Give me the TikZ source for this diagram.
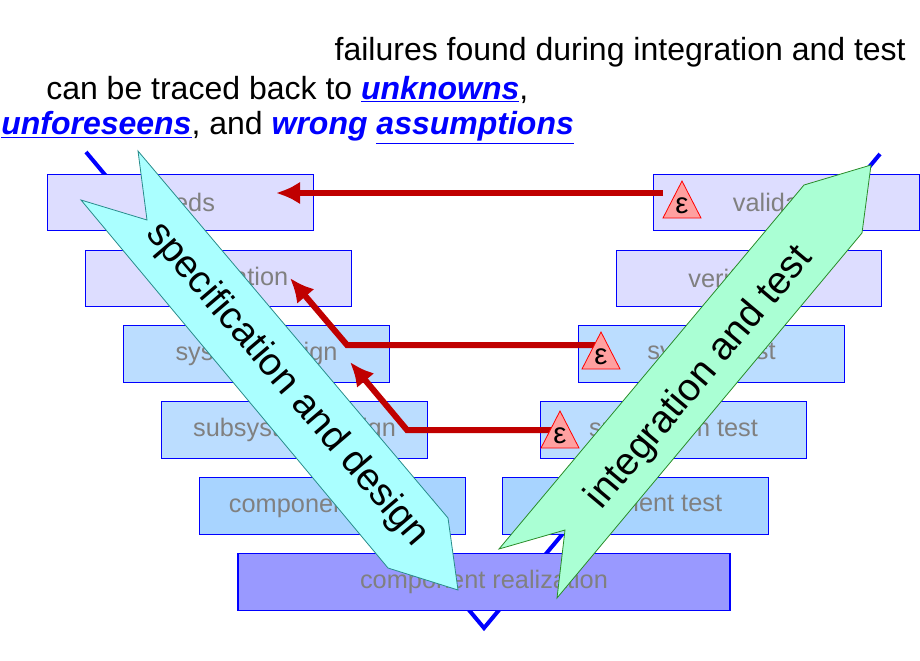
\documentclass[tikz,border=0pt]{standalone}
\usepackage{fontspec}
\setmainfont{Liberation Sans}
\usetikzlibrary{arrows.meta}
\begin{document}
\begin{tikzpicture}[x=0.75pt,y=-0.75pt,
  box/.style={draw=blue,line width=0.8pt,minimum width=199pt,minimum height=42.5pt,inner sep=0pt,text=gray,font=\fontsize{19}{22}\selectfont},
  red/.style={draw={rgb,255:red,192;green,0;blue,0},line width=4.5pt},
  eps/.style={draw=red,fill={rgb,255:red,255;green,160;blue,160},line width=0.6pt},
  big/.style={font=\fontsize{29}{32}\selectfont},
  ttl/.style={font=\fontsize{24}{28}\selectfont,inner sep=0pt}]
\useasboundingbox (0,0) rectangle (920,660);
\definecolor{c1}{HTML}{DDDDFF}\definecolor{c2}{HTML}{BBDDFF}\definecolor{c3}{HTML}{A8D4FF}\definecolor{c4}{HTML}{9999FF}
\definecolor{kb}{HTML}{0000FF}
\draw[kb,line width=3pt] (86,152) coordinate (vl) -- (484,628) coordinate (vb) -- (880,154) coordinate (vr);
\node[box,fill=c1] (needs) at (180.5,202.5) {needs};
\node[box,fill=c1] (spec) at (218.5,278.5) {specification};
\node[box,fill=c2] (sysd) at (256.5,354) {system design};
\node[box,fill=c2] (subd) at (294.5,430) {subsystem design};
\node[box,fill=c3] (compd) at (332.5,506) {component design};
\node[box,fill=c4,minimum width=369pt] (real) at (484,582) {component realization};
\node[box,fill=c1] (val) at (786.5,202.5) {validation};
\node[box,fill=c1] (ver) at (749,278.5) {verification};
\node[box,fill=c2] (syst) at (711.5,354) {system test};
\node[box,fill=c2] (subt) at (673.5,430) {subsystem test};
\node[box,fill=c3] (compt) at (635.5,506) {component test};
% red arrows
\coordinate (a1) at (276,193); \coordinate (s1) at (663,193);
\coordinate (a2) at (290,278); \coordinate (b2) at (347,345); \coordinate (s2) at (600,345);
\coordinate (a3) at (350,362); \coordinate (b3) at (407,430); \coordinate (s3) at (553,430);
\draw[red,-{Latex[length=18pt,width=17pt]}] (s1) -- (a1);
\draw[red,-{Latex[length=18pt,width=17pt]}] (s2) -- (b2) -- (a2);
\draw[red,-{Latex[length=18pt,width=17pt]}] (s3) -- (b3) -- (a3);
\foreach \x/\y/\n in {682/181/e1,601/332/e2,560/411/e3}{
  \draw[eps] (\x,\y) -- (\x+19,\y+37) -- (\x-19,\y+37) -- cycle;
  \node[font=\fontsize{22}{24}\selectfont] (\n) at (\x,\y+25) {ε};}
% big arrows
\draw[draw={rgb,255:red,40;green,140;blue,140},fill={rgb,255:red,170;green,255;blue,255},line width=0.6pt]
 (138,151) -- (448,518) -- (458,590) -- (388,568) -- (81,200) -- (147,220) -- cycle;
\node[big,rotate=-49.5] (sd) at (287,385) {specification and design};
\draw[draw={rgb,255:red,40;green,140;blue,40},fill={rgb,255:red,170;green,255;blue,212},line width=0.6pt]
 (871,165) -- (862,233) -- (557,598) -- (565,530) -- (499,549) -- (804,185) -- cycle;
\node[big,rotate=50] (it) at (700,378) {integration and test};
% title
\node[ttl,anchor=east] (t1) at (906,52) {failures found during integration and test};
\node[ttl,anchor=west] (t2) at (46,90) {can be traced back to \textcolor{kb}{\bfseries\itshape\underline{unknowns}},};
\node[ttl,anchor=west] (t3) at (1,128) {\textcolor{kb}{\bfseries\itshape\underline{unforeseens}}, and \textcolor{kb}{\bfseries\itshape wrong} \textcolor{kb}{\bfseries\itshape\underline{assumptions}}};
\end{tikzpicture}
\end{document}
